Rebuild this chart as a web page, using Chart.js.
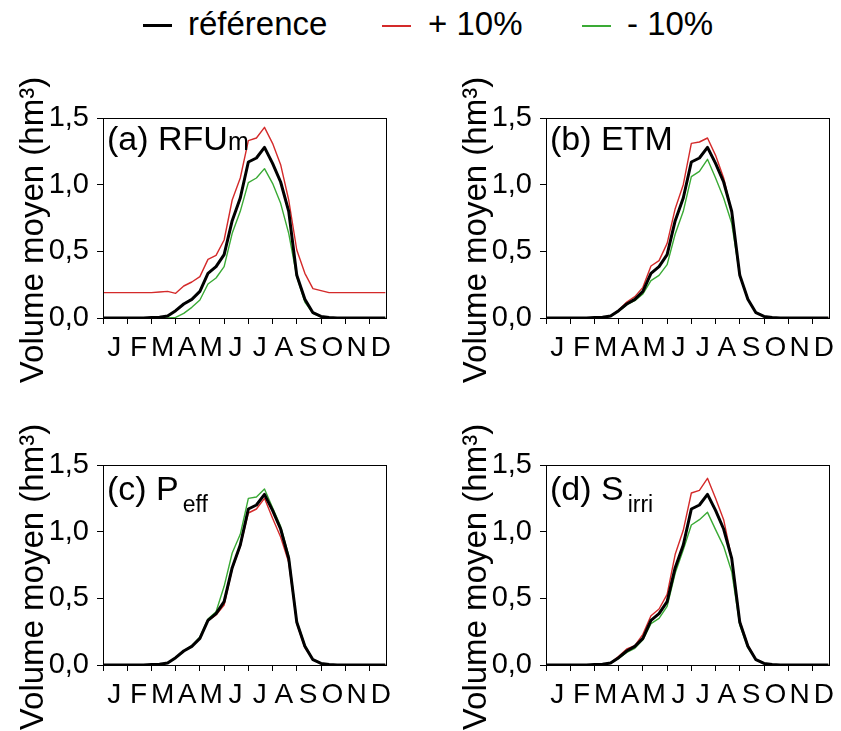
<!DOCTYPE html>
<html>
<head>
<meta charset="utf-8">
<script src="https://cdn.jsdelivr.net/npm/chart.js@4/dist/chart.umd.min.js"></script>
<style>
body { margin: 0; background: #fff; width: 841px; height: 731px; position: relative; overflow: hidden;
       font-family: 'Liberation Sans', Arial, sans-serif; color: #000; }
canvas { position: absolute; }
.t { position: absolute; white-space: nowrap; line-height: 1; }
.leg { font-size: 33px; top: 7px; }
.swatch { position: absolute; width: 29px; }
.yt { font-size: 33px; transform: translate(-50%, -50%) rotate(-90deg); }
.pt { font-size: 34px; }
</style>
</head>
<body>

<div class="swatch" style="left:143px;top:24px;height:3px;background:#000"></div>
<div class="t leg" style="left:188px">référence</div>
<div class="swatch" style="left:382px;top:25px;height:1.5px;background:#d42a2a"></div>
<div class="t leg" style="left:428px">+ 10%</div>
<div class="swatch" style="left:582px;top:25px;height:1.5px;background:#3aaa35"></div>
<div class="t leg" style="left:627px">- 10%</div>

<canvas id="pa" width="398" height="340" style="left:0;top:60px"></canvas>
<canvas id="pb" width="398" height="340" style="left:443px;top:60px"></canvas>
<canvas id="pc" width="398" height="324" style="left:0;top:407px"></canvas>
<canvas id="pd" width="398" height="324" style="left:443px;top:407px"></canvas>

<div class="t yt" style="left:31px;top:230px">Volume moyen (hm³)</div>
<div class="t yt" style="left:474px;top:230px">Volume moyen (hm³)</div>
<div class="t yt" style="left:31px;top:577px">Volume moyen (hm³)</div>
<div class="t yt" style="left:474px;top:577px">Volume moyen (hm³)</div>

<div class="t pt" style="left:107px;top:121px">(a) RFU<span style="font-size:25px">m</span></div>
<div class="t pt" style="left:550px;top:121px">(b) ETM</div>
<div class="t pt" style="left:107px;top:471px">(c) P<span style="font-size:23px;position:relative;top:12px;margin-left:4px">eff</span></div>
<div class="t pt" style="left:550px;top:471px">(d) S<span style="font-size:23px;position:relative;top:12px;margin-left:4px">irri</span></div>

<script>
// decades (dekads) of the year, 36 points
var months = ['J', 'F', 'M', 'A', 'M', 'J', 'J', 'A', 'S', 'O', 'N', 'D'];
var yTicks = [0, 0.5, 1, 1.5];

var reference = [0, 0, 0, 0, 0, 0, 0.003, 0.005, 0.015, 0.055, 0.105, 0.14, 0.2, 0.335, 0.385, 0.475, 0.73, 0.9,
                 1.17, 1.2, 1.28, 1.16, 1.02, 0.8, 0.32, 0.14, 0.04, 0.012, 0.004, 0, 0, 0, 0, 0, 0, 0];

var rfuPlus  = [0.19, 0.19, 0.19, 0.19, 0.19, 0.19, 0.19, 0.195, 0.2, 0.185, 0.24, 0.27, 0.31, 0.44, 0.47, 0.585, 0.885, 1.05,
                1.33, 1.35, 1.43, 1.31, 1.15, 0.885, 0.51, 0.335, 0.22, 0.205, 0.19, 0.19, 0.19, 0.19, 0.19, 0.19, 0.19, 0.19];
var rfuMinus = [0, 0, 0, 0, 0, 0, 0, 0, 0, 0.005, 0.035, 0.08, 0.135, 0.255, 0.3, 0.385, 0.635, 0.8,
                1.015, 1.05, 1.12, 1.01, 0.86, 0.635, 0.31, 0.12, 0.035, 0.01, 0.003, 0, 0, 0, 0, 0, 0, 0];

var etmPlus  = [0, 0, 0, 0, 0, 0, 0.003, 0.005, 0.015, 0.06, 0.12, 0.16, 0.23, 0.39, 0.43, 0.56, 0.82, 1.0,
                1.31, 1.32, 1.35, 1.22, 1.05, 0.79, 0.32, 0.14, 0.04, 0.012, 0.004, 0, 0, 0, 0, 0, 0, 0];
var etmMinus = [0, 0, 0, 0, 0, 0, 0.003, 0.005, 0.012, 0.05, 0.1, 0.13, 0.18, 0.28, 0.32, 0.4, 0.63, 0.8,
                1.06, 1.1, 1.19, 1.05, 0.9, 0.71, 0.32, 0.14, 0.04, 0.012, 0.004, 0, 0, 0, 0, 0, 0, 0];

var peffPlus  = [0, 0, 0, 0, 0, 0, 0.003, 0.005, 0.015, 0.055, 0.105, 0.14, 0.2, 0.33, 0.375, 0.45, 0.72, 0.89,
                 1.14, 1.17, 1.25, 1.1, 0.96, 0.77, 0.31, 0.13, 0.04, 0.012, 0.004, 0, 0, 0, 0, 0, 0, 0];
var peffMinus = [0, 0, 0, 0, 0, 0, 0.003, 0.005, 0.015, 0.055, 0.105, 0.145, 0.21, 0.345, 0.4, 0.59, 0.84, 0.98,
                 1.25, 1.26, 1.32, 1.18, 1.04, 0.82, 0.33, 0.15, 0.04, 0.012, 0.004, 0, 0, 0, 0, 0, 0, 0];

var sirriPlus  = [0, 0, 0, 0, 0, 0, 0.003, 0.005, 0.017, 0.065, 0.12, 0.145, 0.23, 0.37, 0.42, 0.53, 0.83, 1.01,
                  1.29, 1.31, 1.4, 1.25, 1.09, 0.8, 0.33, 0.15, 0.04, 0.012, 0.004, 0, 0, 0, 0, 0, 0, 0];
var sirriMinus = [0, 0, 0, 0, 0, 0, 0.003, 0.005, 0.013, 0.05, 0.095, 0.125, 0.19, 0.31, 0.35, 0.44, 0.69, 0.865,
                  1.05, 1.09, 1.145, 1.015, 0.89, 0.7, 0.3, 0.13, 0.04, 0.012, 0.004, 0, 0, 0, 0, 0, 0, 0];

var FONT = "'Liberation Sans', Arial, sans-serif";
var RED = '#d42a2a', GREEN = '#3aaa35';

function toPoints(arr) {
    return arr.map(function (v, i) { return { x: i, y: v }; });
}

var boxPlugin = {
    id: 'box',
    afterDraw: function (chart) {
        var a = chart.chartArea, c = chart.ctx;
        c.save();
        c.strokeStyle = '#000';
        c.lineWidth = 1;
        c.strokeRect(Math.round(a.left) + 0.5, Math.round(a.top) + 0.5,
                     Math.round(a.right - a.left), Math.round(a.bottom - a.top));
        c.restore();
    }
};

function makePanel(id, plus, minus, xHeight, padBottom) {
    var ctx = document.getElementById(id).getContext('2d');
    return new Chart(ctx, {
        type: 'line',
        data: {
            datasets: [
                { data: toPoints(reference), borderColor: '#000', borderWidth: 3 },
                { data: toPoints(plus), borderColor: RED, borderWidth: 1.4 },
                { data: toPoints(minus), borderColor: GREEN, borderWidth: 1.4 }
            ]
        },
        options: {
            responsive: false,
            animation: false,
            events: [],
            layout: { padding: { left: 0, top: 58, right: 7, bottom: padBottom } },
            elements: { point: { radius: 0 }, line: { tension: 0, borderJoinStyle: 'round' } },
            plugins: { legend: { display: false }, tooltip: { enabled: false } },
            scales: {
                x: {
                    type: 'linear', min: 0, max: 35,
                    afterBuildTicks: function (scale) {
                        var t = [];
                        for (var m = 0; m < 12; m++) {
                            t.push({ value: m * 3 });
                            t.push({ value: m * 3 + 1.4 });
                        }
                        scale.ticks = t;
                    },
                    afterFit: function (scale) { scale.height = xHeight; },
                    grid: {
                        drawOnChartArea: false, tickLength: 6, lineWidth: 1,
                        tickColor: function (c) { return c.index % 2 === 0 ? '#000' : 'rgba(0,0,0,0)'; }
                    },
                    border: { display: true, color: '#000', width: 1 },
                    ticks: {
                        autoSkip: false, maxRotation: 0, padding: 7, color: '#000',
                        font: { family: FONT, size: 28 },
                        callback: function (v, i) { return i % 2 === 1 ? months[(i - 1) / 2] : ''; }
                    }
                },
                y: {
                    min: 0, max: 1.5,
                    afterBuildTicks: function (scale) {
                        scale.ticks = yTicks.map(function (v) { return { value: v }; });
                    },
                    afterFit: function (scale) { scale.width = 103; },
                    grid: { drawOnChartArea: false, tickLength: 6, color: '#000' },
                    border: { display: true, color: '#000', width: 1 },
                    ticks: {
                        padding: 8, color: '#000',
                        font: { family: FONT, size: 29 },
                        callback: function (v) { return v.toFixed(1).replace('.', ','); }
                    }
                }
            }
        },
        plugins: [boxPlugin]
    });
}

makePanel('pa', rfuPlus, rfuMinus, 60, 22);
makePanel('pb', etmPlus, etmMinus, 60, 22);
makePanel('pc', peffPlus, peffMinus, 60, 6);
makePanel('pd', sirriPlus, sirriMinus, 60, 6);
</script>
</body>
</html>
